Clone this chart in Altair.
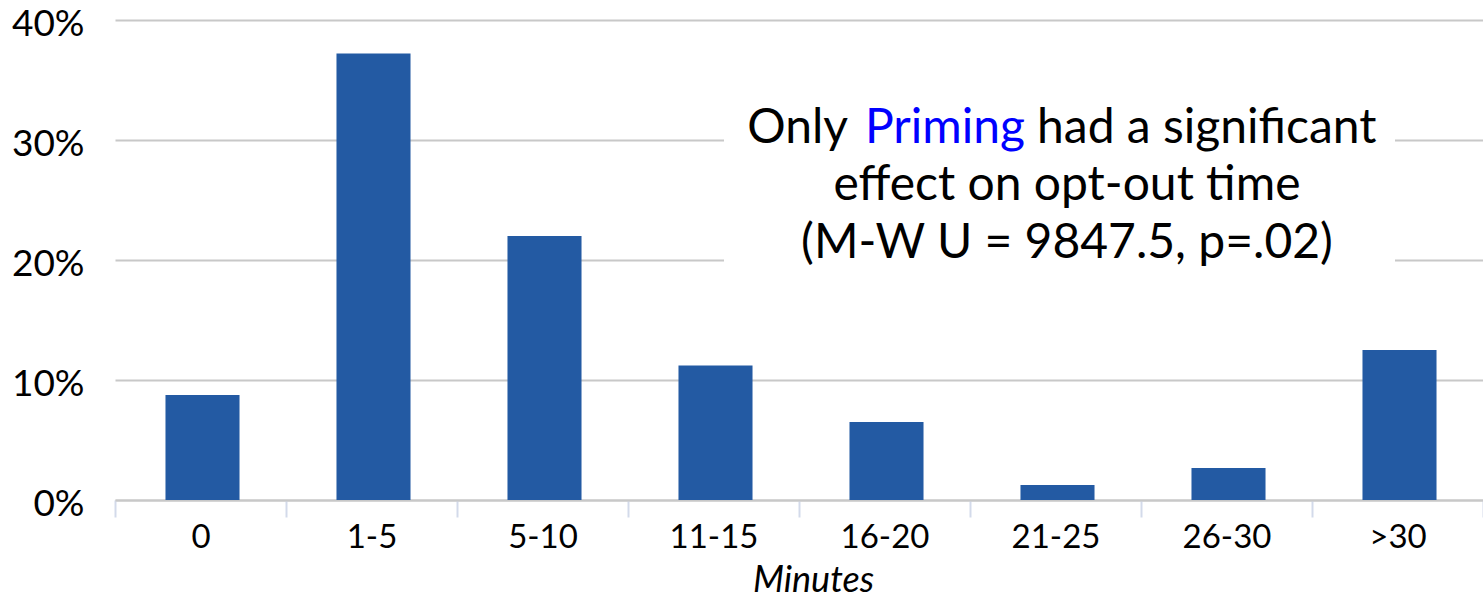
import altair as alt
import pandas as pd

categories = ["0", "1-5", "5-10", "11-15", "16-20", "21-25", "26-30", ">30"]
shares = [0.0875, 0.372, 0.220, 0.112, 0.065, 0.0125, 0.0267, 0.125]
y_ticks = [0, 0.1, 0.2, 0.3, 0.4]
x_title = "Minutes"
note_line1 = ["Only", "Priming", "had a significant"]
note_line2 = "effect on opt-out time"
note_line3 = "(M-W U = 9847.5, p=.02)"

FONT = "Lato"
W, H = 1368, 480

df = pd.DataFrame({"cat": categories, "share": shares})

xscale = alt.Scale(domain=categories, paddingInner=0, paddingOuter=0)
yscale = alt.Scale(domain=[0, 0.4], nice=False)

bars = alt.Chart(df).mark_bar(color="#235AA3", width=alt.RelativeBandSize(0.433),
                              xOffset=2).encode(
    x=alt.X("cat:N", scale=xscale, sort=categories,
            axis=alt.Axis(title=x_title, labelAngle=0, labelFont=FONT, labelFontSize=33,
                          labelColor="#000000", labelPadding=4, tickColor="#D3DAEA",
                          tickWidth=2, tickSize=17, tickBand="extent", domainColor="#C8C8C8",
                          domainWidth=2, titleFont=FONT, titleFontSize=36,
                          titleFontStyle="italic", titleFontWeight="normal",
                          titleColor="#000000", titleY=91, titleX=698, titleAlign="center",
                          titleBaseline="alphabetic", grid=False)),
    y=alt.Y("share:Q", scale=yscale,
            axis=alt.Axis(values=y_ticks, format=".0%", title=None, labelFont=FONT,
                          labelFontSize=37, labelColor="#000000", labelPadding=31,
                          labelOffset=4, ticks=False, domain=False, grid=True,
                          gridColor="#C8C8C8", gridWidth=2)),
)

box = alt.Chart(df).mark_rect(color="white").encode(
    x=alt.value(609), x2=alt.value(1280), y=alt.value(85), y2=alt.value(262)
)

def txt(s, x, y, align, color="#000000"):
    return alt.Chart(pd.DataFrame({"t": [s]})).mark_text(
        font=FONT, fontSize=48, color=color, align=align, baseline="alphabetic"
    ).encode(text="t:N", x=alt.value(x), y=alt.value(y))

notes = (
    txt(note_line1[0], 733, 123, "right")
    + txt(note_line1[1], 830, 123, "center", "#0000FF")
    + txt(note_line1[2], 922, 123, "left")
    + txt(note_line2, 952, 180, "center")
    + txt(note_line3, 952, 238, "center")
)

chart = alt.layer(bars, box, notes).properties(
    width=W, height=H,
    autosize=alt.AutoSizeParams(type="none"),
    padding={"left": 115, "top": 20, "right": 0, "bottom": 99},
).configure_view(stroke=None)

chart.save("out.html", embed_options={"renderer": "svg", "actions": False})
